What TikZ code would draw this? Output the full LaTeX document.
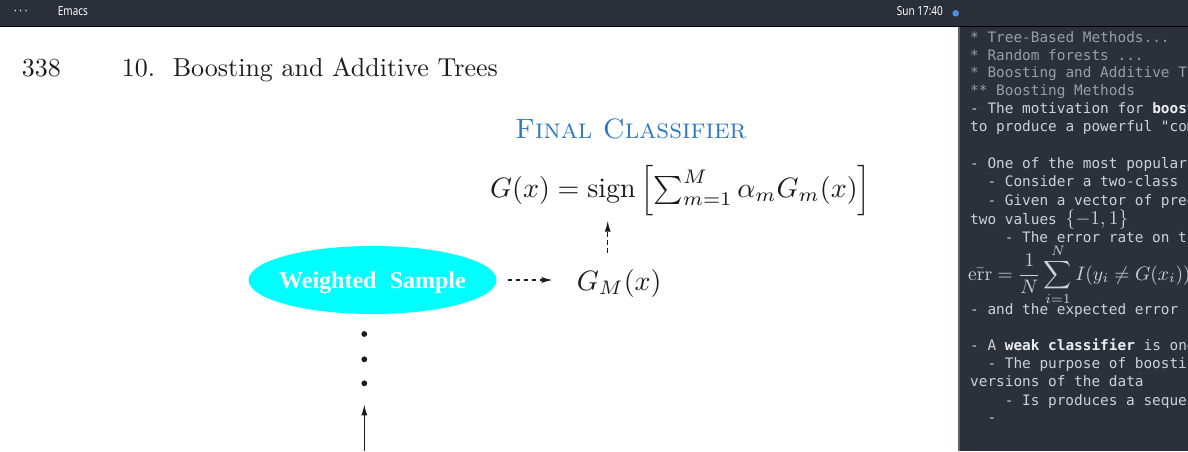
\documentclass[tikz,border=0pt]{standalone}
\usepackage{graphicx}
\usepackage{amsmath,amssymb}
\usepackage{fontspec}
\newfontfamily\barfont{Noto Sans}
\newfontfamily\monofont{DejaVu Sans Mono}
\newfontfamily\figfont{Liberation Serif}
\usetikzlibrary{positioning,arrows.meta,shapes.geometric}

\definecolor{barbg}{RGB}{43,47,58}
\definecolor{panelbg}{RGB}{43,48,59}
\definecolor{panelrule}{RGB}{92,97,108}
\definecolor{headgray}{RGB}{152,158,170}
\definecolor{bodygray}{RGB}{206,209,215}
\definecolor{boldwhite}{RGB}{236,238,241}
\definecolor{titleblue}{RGB}{47,120,196}
\definecolor{clockdot}{RGB}{74,144,226}
\definecolor{inkblack}{RGB}{28,28,28}
\definecolor{samplecyan}{RGB}{0,255,255}

\newcommand{\pagetxt}[1]{\scalebox{2.6}{#1}}
\newcommand{\figtxt}[1]{\scalebox{2.8}{#1}}
\newcommand{\notemath}[1]{\scalebox{1.95}{\fontsize{10}{12}\selectfont #1}}
\newcommand{\bartxt}[1]{\scalebox{0.8}[1]{#1}}

\begin{document}
\begin{tikzpicture}[
  x=1pt, y=-1pt,
  bartext/.style={inner sep=0, anchor=mid west, text=white,
    font=\barfont\fontsize{12.5}{14}\selectfont},
  pagetext/.style={inner sep=0, anchor=base west, text=inkblack},
  notetext/.style={inner sep=0, anchor=mid west, text=bodygray,
    font=\monofont\fontsize{14.4}{18}\selectfont},
  notehead/.style={notetext, text=headgray},
  sampleblock/.style={ellipse, fill=samplecyan, minimum width=248pt, minimum height=68pt,
    inner xsep=-8pt, inner ysep=0pt, text depth=0pt, text=white,
    font=\figfont\bfseries\fontsize{24}{28}\selectfont},
  dotnode/.style={circle, fill=inkblack, inner sep=0, minimum size=5.8pt},
  flow/.style={line width=1.3pt, inkblack, -{Latex[length=11pt,width=6pt]}},
  dashflow/.style={flow, dash pattern=on 4.5pt off 3.5pt}
]
\useasboundingbox (0,0) rectangle (1188,451);

% window chrome
\fill[barbg] (0,0) rectangle (1188,26);
\fill[black] (0,26) rectangle (1188,27.3);
\fill[white] (0,27.3) rectangle (958,451);
\fill[panelbg] (958,27.3) rectangle (1188,451);
\draw[panelrule, line width=1.5pt] (959,27.3) -- (959,451);

\node[bartext] (menu) at (14,13.5) {\bartxt{· · ·}};
\node[bartext] (appname) at (57.7,13.3) {\bartxt{Emacs}};
\node[bartext] (clock) at (896.7,13.3) {\bartxt{Sun 17:40}};
\node[circle, fill=clockdot, inner sep=0, minimum size=6.6pt] (status) at (955.7,13.3) {};

% book page
\node[pagetext] (pageno) at (21.7,76) {\pagetxt{338}};
\node[pagetext] (chapter) at (121.7,76)
  {\pagetxt{10.\hspace{0.68em}Boosting and Additive Trees}};

\node[pagetext, text=titleblue] (fintitle) at (515,138.3)
  {\figtxt{\textsc{Final Classifier}}};
\node[pagetext] (fin) at (490,197.3)
  {\figtxt{$G(x)=\mathrm{sign}\left[\sum_{m=1}^{M}\alpha_m G_m(x)\right]$}};
\node[sampleblock] (sample) at (372.5,280) {Weighted\hspace{0.3em} Sample};
\node[pagetext] (gm) at (576.7,290) {\figtxt{$G_M(x)$}};

\node[dotnode] (d1) at (364.3,334) {};
\node[dotnode] (d2) at (364.3,359.3) {};
\node[dotnode] (d3) at (364.3,383.3) {};
\coordinate (prev) at (364.3,451);

\draw[dashflow, shorten <=11pt, shorten >=24pt] (sample) -- (sample -| gm.west);
\draw[dashflow, shorten <=16pt, shorten >=5pt]
  ([xshift=-11.5pt]gm.north) -- ([xshift=-11.5pt]gm.north |- fin.south);
\draw[flow, shorten >=18pt] (prev) -- (d3);

% org notes on the right, clipped at the window edge
\begin{scope}
\clip (960,27.3) rectangle (1188,451);
\node[notehead] (h1) at (970,40.3) {* Tree-Based Methods...};
\node[notehead] (h2) at (970,58) {* Random forests ...};
\node[notehead] (h3) at (970,75.7) {* Boosting and Additive Trees};
\node[notehead] (h4) at (970,93.3) {** Boosting Methods};
\node[notetext] (n1) at (970,111.3)
  {- The motivation for {\bfseries\color{boldwhite}boosting}};
\node[notetext] (n2) at (970,129.7) {to produce a powerful "committee"};
\node[notetext] (n3) at (970,166) {- One of the most popular};
\node[notetext] (n4) at (987.3,184.5) {- Consider a two-class};
\node[notetext] (n5) at (987.3,203) {- Given a vector of predictor};
\node[notetext] (n6) at (970,222) {two values \notemath{$\{-1,1\}$}};
\node[notetext] (n7) at (1004.6,240) {- The error rate on the};
\node[notetext, anchor=base west] (errrate) at (968,280)
  {\notemath{$\displaystyle\bar{\mathrm{err}}=\frac{1}{N}\sum_{i=1}^{N}I(y_i\neq G(x_i))$}};
\node[notetext] (n8) at (970,312) {- and the expected error};
\node[notetext] (n9) at (970,348)
  {- A {\bfseries\color{boldwhite}weak classifier} is one};
\node[notetext] (n10) at (987.3,366.3) {- The purpose of boosting};
\node[notetext] (n11) at (970,384.7) {versions of the data};
\node[notetext] (n12) at (1004.6,403) {- Is produces a sequence};
\node[notetext] (n13) at (987.3,420) {-};
\end{scope}
\end{tikzpicture}
\end{document}
